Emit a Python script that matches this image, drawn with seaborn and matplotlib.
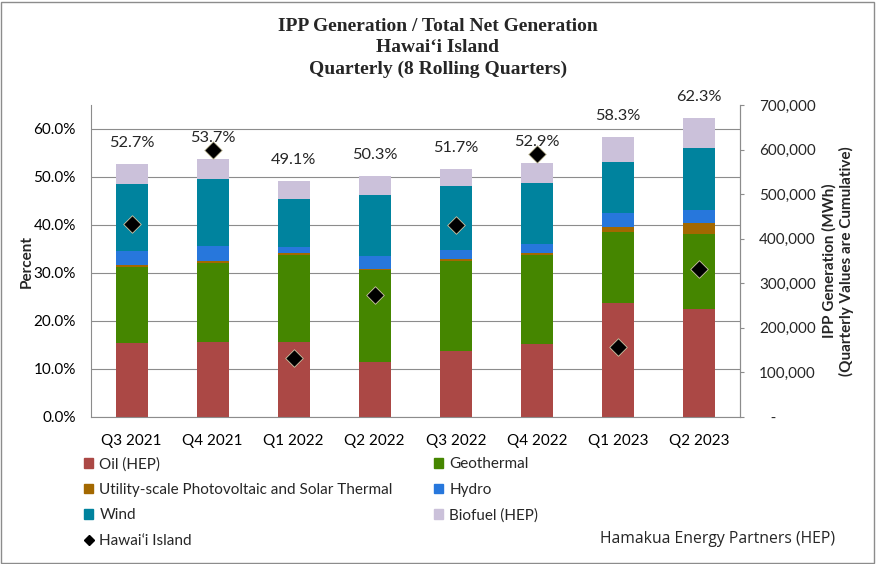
import numpy as np
import matplotlib
matplotlib.use("Agg")
import matplotlib.pyplot as plt
import seaborn as sns
from matplotlib.patches import Patch, Rectangle
from matplotlib.lines import Line2D

quarters = ["Q3 2021", "Q4 2021", "Q1 2022", "Q2 2022",
            "Q3 2022", "Q4 2022", "Q1 2023", "Q2 2023"]

# share of total net generation, percent (bottom to top of each stack)
oil = [15.4, 15.7, 15.7, 11.5, 13.75, 15.3, 23.75, 22.5]
geothermal = [15.85, 16.4, 18.05, 19.1, 18.75, 18.45, 14.75, 15.7]
solar = [0.45, 0.4, 0.45, 0.2, 0.4, 0.45, 1.1, 2.2]
hydro = [2.9, 3.2, 1.2, 2.7, 1.9, 1.8, 2.9, 2.8]
wind = [13.9, 13.9, 10.0, 12.75, 13.3, 12.75, 10.6, 12.8]
biofuel = [4.2, 4.1, 3.7, 4.05, 3.6, 4.15, 5.2, 6.3]

# IPP generation on Hawai'i Island, MWh (right axis)
island_mwh = [433700, 598400, 131700, 274400, 430100, 590800, 156300, 332800]

series = ["Oil (HEP)", "Geothermal", "Utility-scale Photovoltaic and Solar Thermal",
          "Hydro", "Wind", "Biofuel (HEP)"]
colors = ["#AB4845", "#458600", "#A36800", "#2777DC", "#00839E", "#CBC1DA"]

sns.set_style("white")
plt.rcParams["font.family"] = ["Lato", "DejaVu Sans"]

fig = plt.figure(figsize=(8.76, 5.64), dpi=100)
ax = fig.add_axes([91 / 876, 147 / 564, 648.5 / 876, 312 / 564])

stack = np.array([oil, geothermal, solar, hydro, wind, biofuel])
cum = np.cumsum(stack, axis=0)
totals = cum[-1]

# draw tallest cumulative first so lower layers sit on top
for i in range(len(series) - 1, -1, -1):
    sns.barplot(x=quarters, y=cum[i], color=colors[i], saturation=1,
                width=0.395, linewidth=0, errorbar=None, ax=ax, zorder=2)

ax.set_xlim(-0.5, 7.5)
ax.set_ylim(0, 65)
ax.set_yticks(np.arange(0, 61, 10))
ax.set_yticklabels([f"{v:.1f}%" for v in np.arange(0, 61, 10)])
ax.grid(axis="y", color="#8C8C8C", linewidth=0.8)
ax.grid(axis="x", visible=False)
ax.set_axisbelow(True)
ax.tick_params(axis="both", length=0, labelsize=11, colors="black")
ax.tick_params(axis="x", pad=12)
ax.tick_params(axis="y", pad=11)
ax.set_xlabel("")
ax.set_ylabel("Percent", fontsize=11, fontweight="bold")
ax.yaxis.set_label_coords((34 - 91) / 648.5, 0.5)
for side in ["left", "bottom", "right"]:
    ax.spines[side].set_color("#8C8C8C")
    ax.spines[side].set_linewidth(0.8)
ax.spines["top"].set_visible(False)

for i, t in enumerate(totals):
    ax.annotate(f"{t:.1f}%", (i, t), xytext=(0, 15), textcoords="offset points",
                ha="center", va="center", fontsize=11.8)

ax2 = ax.twinx()
sns.scatterplot(x=np.arange(len(quarters)), y=island_mwh, marker="D", s=80,
                color="black", edgecolor="#CFC8A8", linewidth=0.6, ax=ax2, zorder=5)
ax2.set_ylim(0, 700000)
ax2.set_yticks(np.arange(0, 700001, 100000))
ax2.set_yticklabels(["   -" if v == 0 else f"{v:,.0f}" for v in np.arange(0, 700001, 100000)])
ax2.tick_params(axis="y", length=3, width=0.8, color="#8C8C8C", labelsize=11, pad=11)
ax2.set_ylabel("IPP Generation (MWh)\n(Quarterly Values are Cumulative)",
               fontsize=11, fontweight="bold", rotation=90)
ax2.yaxis.set_label_coords((822 - 91) / 648.5, 0.5)
for side in ["left", "bottom", "top"]:
    ax2.spines[side].set_visible(False)
ax2.spines["right"].set_color("#8C8C8C")
ax2.spines["right"].set_linewidth(0.8)

fig.text(0.5, 1 - 48 / 564,
         "IPP Generation / Total Net Generation\nHawai\u02bbi Island\nQuarterly (8 Rolling Quarters)",
         ha="center", va="center", fontsize=14, fontweight="bold",
         family="Liberation Serif", linespacing=1.3)

handles = [Patch(color=colors[0]), Patch(color=colors[2]), Patch(color=colors[4]),
           Line2D([], [], marker="D", color="black", linestyle="", markersize=5),
           Patch(color=colors[1]), Patch(color=colors[3]), Patch(color=colors[5])]
labels = [series[0], series[2], series[4], "Hawai\u02bbi Island",
          series[1], series[3], series[5]]
fig.legend(handles, labels, loc="upper left", bbox_to_anchor=(78 / 876, 1 - 451 / 564),
           ncol=2, frameon=False, fontsize=11, handlelength=0.6, handleheight=0.6,
           handletextpad=0.4, columnspacing=2.7, labelspacing=0.75, borderaxespad=0)

fig.text(835 / 876, 1 - 539 / 564, "Hamakua Energy Partners (HEP)",
         ha="right", va="center", fontsize=11.3, family="Open Sans")

fig.patches.append(Rectangle((1 / 876, 1 / 564), 873 / 876, 561 / 564,
                             transform=fig.transFigure, fill=False,
                             edgecolor="#8C8C8C", linewidth=1))

fig.savefig("out.png", dpi=100)
